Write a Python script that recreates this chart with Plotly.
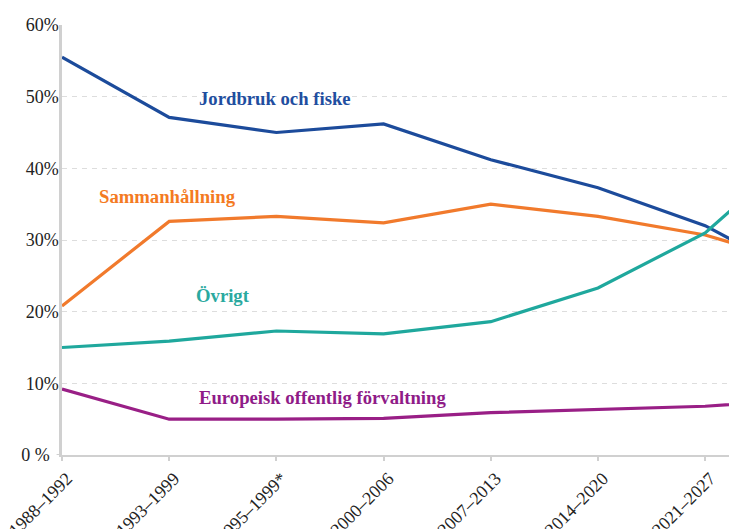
import plotly.graph_objects as go

# Periods (last one lies beyond the visible right edge; the lines run off the chart there)
periods = ["1988–1992", "1993–1999", "1995–1999*", "2000–2006", "2007–2013",
           "2014–2020", "2021–2027", "2028–2034"]

jordbruk = [55.5, 47.1, 45.0, 46.2, 41.2, 37.3, 32.0, 24.0]
sammanhallning = [20.8, 32.6, 33.3, 32.4, 35.0, 33.3, 30.7, 26.3]
ovrigt = [15.0, 15.9, 17.3, 16.9, 18.6, 23.3, 31.0, 44.1]
europeisk = [9.2, 5.0, 5.0, 5.1, 5.9, 6.4, 6.8, 7.8]

y_ticks = [0, 10, 20, 30, 40, 50, 60]
y_ticklabels = ["0 %\u00a0\u00a0", "10%", "20%", "30%", "40%", "50%", "60%"]

series = [
    ("Jordbruk och fiske", jordbruk, "#1c4b9b"),
    ("Sammanhållning", sammanhallning, "#f17a2c"),
    ("Övrigt", ovrigt, "#1fa89d"),
    ("Europeisk offentlig förvaltning", europeisk, "#991f86"),
]

label_pos = {
    "Jordbruk och fiske": (1.26, 49.7, "#1f4ea0"),
    "Sammanhållning": (0.33, 36.1, "#f47a22"),
    "Övrigt": (1.23, 22.2, "#2aa9a0"),
    "Europeisk offentlig förvaltning": (1.26, 8.0, "#8f1b88"),
}

FONT = "Times New Roman"

fig = go.Figure()
for name, vals, color in series:
    fig.add_trace(go.Scatter(
        x=periods, y=vals, mode="lines", name=name,
        line=dict(color=color, width=3.2), showlegend=False,
        cliponaxis=True,
    ))

for name, (lx, ly, col) in label_pos.items():
    fig.add_annotation(
        x=lx, y=ly, xref="x", yref="y", text=f"<b>{name}</b>",
        showarrow=False, xanchor="left", yanchor="middle",
        font=dict(family=FONT, size=18.7, color=col),
    )

# short extension of the baseline to the left of the y axis
fig.add_shape(type="line", xref="paper", yref="y", x0=-0.008, x1=0, y0=0, y1=0,
              line=dict(color="#d0d0d0", width=2))

fig.update_layout(
    width=729, height=521,
    margin=dict(l=54, r=0, t=17, b=74),
    paper_bgcolor="white", plot_bgcolor="white",
    font=dict(family=FONT, size=18, color="#222222"),
    xaxis=dict(
        type="category", range=[0, 6.297], automargin=False,
        showgrid=False, showline=True, linecolor="#d0d0d0", linewidth=2,
        ticks="outside", ticklen=4, tickcolor="#d0d0d0", tickwidth=1.5,
        tickangle=-45, ticklabelshift=5,
        tickfont=dict(family=FONT, size=18, color="#222222"),
    ),
    yaxis=dict(
        range=[0, 60], automargin=False,
        tickvals=y_ticks, ticktext=y_ticklabels,
        showgrid=True, gridcolor="#dddddd", gridwidth=1, griddash="5px,5px",
        zeroline=False, showline=True, linecolor="#d0d0d0", linewidth=2.5,
        ticks="", ticklabelstandoff=-3,
        tickfont=dict(family=FONT, size=18, color="#222222"),
    ),
)

fig.write_html("out.html")
